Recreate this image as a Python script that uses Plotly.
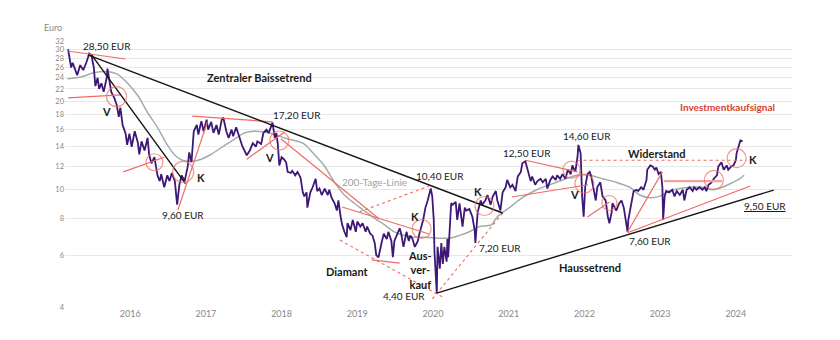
import numpy as np
import plotly.graph_objects as go

# ---------------- data ----------------
price_t = [
    2015.18, 2015.22, 2015.24, 2015.26, 2015.30, 2015.34, 2015.38, 2015.42, 2015.46, 2015.49,
    2015.52, 2015.54, 2015.57, 2015.59, 2015.62, 2015.65, 2015.69, 2015.70, 2015.73, 2015.75,
    2015.79, 2015.82, 2015.85, 2015.87, 2015.90, 2015.94, 2015.96, 2015.99,
    2016.02, 2016.06, 2016.10, 2016.12, 2016.15, 2016.19, 2016.23, 2016.25, 2016.28, 2016.32,
    2016.36, 2016.39, 2016.41, 2016.45, 2016.49, 2016.52, 2016.55, 2016.59, 2016.62, 2016.65,
    2016.68, 2016.72, 2016.76, 2016.78, 2016.81, 2016.84, 2016.88, 2016.90, 2016.94, 2016.97,
    2017.01, 2017.03, 2017.07, 2017.10, 2017.14, 2017.17, 2017.21, 2017.23, 2017.27, 2017.30,
    2017.34, 2017.36, 2017.40, 2017.44, 2017.48, 2017.54, 2017.58, 2017.62, 2017.66, 2017.68,
    2017.73, 2017.76, 2017.80, 2017.83, 2017.87, 2017.88, 2017.91, 2017.93, 2017.95, 2017.97,
    2018.00, 2018.03, 2018.06, 2018.08, 2018.12, 2018.14, 2018.18, 2018.21, 2018.25, 2018.28,
    2018.30, 2018.33, 2018.34, 2018.38, 2018.41, 2018.45, 2018.47, 2018.50, 2018.53, 2018.57,
    2018.61, 2018.63, 2018.66, 2018.70, 2018.73, 2018.75, 2018.78, 2018.80, 2018.83, 2018.86,
    2018.87, 2018.91, 2018.94, 2018.98,
    2019.00, 2019.04, 2019.07, 2019.11, 2019.13, 2019.17, 2019.20, 2019.23, 2019.25, 2019.28,
    2019.32, 2019.35, 2019.39, 2019.41, 2019.45, 2019.47, 2019.49, 2019.53, 2019.56, 2019.58,
    2019.61, 2019.65, 2019.68, 2019.70, 2019.73, 2019.76, 2019.80, 2019.82, 2019.85, 2019.87,
    2019.90, 2019.93, 2019.97, 2019.99,
    2020.01, 2020.02, 2020.05, 2020.06, 2020.09, 2020.11, 2020.13, 2020.15, 2020.18, 2020.19,
    2020.20, 2020.23, 2020.24, 2020.26, 2020.30, 2020.32, 2020.35, 2020.39, 2020.42, 2020.44,
    2020.48, 2020.52, 2020.55, 2020.56, 2020.59, 2020.63, 2020.65, 2020.69, 2020.72, 2020.76,
    2020.79, 2020.83, 2020.85, 2020.89, 2020.92, 2020.96, 2020.98,
    2021.02, 2021.05, 2021.09, 2021.12, 2021.16, 2021.18, 2021.22, 2021.25, 2021.29, 2021.31,
    2021.35, 2021.38, 2021.42, 2021.45, 2021.49, 2021.51, 2021.55, 2021.58, 2021.62, 2021.64,
    2021.68, 2021.71, 2021.75, 2021.78, 2021.82, 2021.84, 2021.88, 2021.91, 2021.92, 2021.95,
    2021.96, 2021.97, 2021.99,
    2022.01, 2022.04, 2022.07, 2022.09, 2022.12, 2022.15, 2022.17, 2022.21, 2022.24, 2022.28,
    2022.31, 2022.33, 2022.36, 2022.37, 2022.40, 2022.42, 2022.46, 2022.49, 2022.52, 2022.54,
    2022.57, 2022.58, 2022.61, 2022.64, 2022.65, 2022.69, 2022.71, 2022.75, 2022.78, 2022.82,
    2022.83, 2022.87, 2022.90, 2022.93, 2022.95, 2022.98,
    2023.01, 2023.03, 2023.04, 2023.06, 2023.08, 2023.12, 2023.16, 2023.19, 2023.22, 2023.26,
    2023.30, 2023.32, 2023.35, 2023.39, 2023.43, 2023.45, 2023.48, 2023.52, 2023.56, 2023.59,
    2023.61, 2023.64, 2023.68, 2023.71, 2023.75, 2023.77, 2023.81, 2023.84, 2023.88, 2023.90,
    2023.94, 2023.97, 2024.00, 2024.01, 2024.04, 2024.06, 2024.09,
]
price_v = [
    30.0, 26.0, 27.0, 26.0, 24.5, 26.5, 25.5, 27.0, 29.0, 28.5,
    26.0, 22.5, 24.0, 22.0, 23.0, 21.5, 24.0, 25.8, 23.5, 21.5,
    20.5, 19.5, 17.7, 19.0, 16.6, 15.5, 14.2, 15.5,
    14.0, 15.8, 14.5, 13.2, 14.6, 13.6, 15.0, 13.2, 12.3, 12.9,
    11.2, 10.7, 11.3, 10.2, 11.2, 10.7, 11.4, 10.7, 8.9, 10.4,
    11.2, 10.7, 12.0, 13.4, 12.4, 15.8, 16.6, 15.4, 17.1, 15.8,
    17.3, 16.0, 17.0, 15.6, 16.6, 15.4, 17.3, 17.6, 15.8, 15.0,
    16.0, 15.2, 16.3, 15.0, 14.1, 13.1, 13.6, 14.4, 14.0, 14.6,
    14.3, 15.6, 16.0, 15.6, 16.6, 16.9, 15.0, 15.6, 14.3, 12.1,
    12.9, 12.7, 12.4, 11.5, 11.4, 11.6, 11.2, 11.5, 11.0, 9.8,
    9.5, 9.8, 8.7, 9.8, 10.2, 10.9, 9.9, 10.1, 9.6, 10.1,
    9.6, 10.0, 9.4, 9.0, 8.5, 9.2, 8.1, 7.6, 7.2, 6.9,
    7.7, 7.3, 7.9, 7.2,
    7.8, 7.5, 7.7, 7.2, 7.5, 7.1, 7.0, 6.6, 6.0, 5.9,
    6.6, 7.1, 6.8, 7.2, 6.7, 5.9, 6.7, 7.1, 7.4, 7.1,
    6.4, 7.2, 6.7, 7.0, 6.8, 6.4, 6.7, 7.1, 7.5, 7.9,
    8.7, 9.2, 10.1, 9.5,
    7.9, 6.1, 4.45, 6.4, 5.4, 6.6, 5.6, 6.4, 5.7, 6.8,
    5.9, 7.9, 9.0, 8.9, 9.1, 7.9, 9.0, 7.5, 8.7, 8.5,
    8.6, 8.1, 7.3, 6.6, 8.4, 9.2, 8.9, 9.2, 9.6, 8.9,
    9.5, 9.9, 9.2, 8.5, 9.8, 10.2, 10.8,
    10.2, 10.4, 9.9, 11.1, 11.5, 12.3, 12.5, 11.7, 10.7, 11.1,
    10.4, 10.7, 10.9, 10.6, 10.9, 10.1, 10.8, 11.1, 10.8, 11.2,
    10.9, 11.3, 10.9, 11.7, 11.3, 12.1, 11.5, 13.0, 14.2, 13.3,
    11.1, 9.5, 8.1,
    10.2, 11.3, 11.5, 11.1, 10.0, 9.2, 10.2, 10.6, 9.5, 9.2,
    8.1, 7.7, 8.4, 9.0, 8.7, 8.5, 9.0, 9.2, 8.7, 8.1,
    7.2, 7.9, 8.7, 9.8, 9.9, 10.0, 9.9, 10.2, 10.0, 10.8,
    11.7, 12.1, 12.0, 11.7, 11.9, 11.3,
    11.5, 10.2, 7.9, 9.5, 9.9, 9.8, 10.0, 9.5, 9.9, 9.6,
    10.0, 9.2, 10.0, 10.2, 9.9, 10.2, 10.0, 10.2, 10.0, 10.2,
    9.9, 10.4, 10.6, 10.9, 11.2, 12.0, 12.4, 11.7, 12.1, 11.7,
    12.0, 12.1, 12.6, 13.3, 14.0, 14.7, 14.6,
]

ma200_t = [2015.17, 2015.36, 2015.53, 2015.70, 2015.83, 2015.96, 2016.10, 2016.23, 2016.36, 2016.49,
           2016.59, 2016.69, 2016.81, 2016.94, 2017.07, 2017.24, 2017.42, 2017.51, 2017.64, 2017.77,
           2017.91, 2018.04, 2018.17, 2018.30, 2018.43, 2018.57, 2018.70, 2018.83, 2018.96, 2019.09,
           2019.23, 2019.36, 2019.49, 2019.62, 2019.76, 2019.89, 2020.09, 2020.22, 2020.35, 2020.48,
           2020.61, 2020.77, 2020.85, 2021.01, 2021.18, 2021.37, 2021.54, 2021.71, 2021.90, 2022.07,
           2022.24, 2022.42, 2022.60, 2022.73, 2022.86, 2022.99, 2023.12, 2023.26, 2023.39, 2023.56,
           2023.69, 2023.82, 2023.96, 2024.05, 2024.11]
ma200_v = [23.8, 24.2, 25.0, 25.2, 24.7, 23.1, 20.9, 18.3, 16.3, 14.2,
           13.1, 12.6, 12.5, 12.7, 13.2, 14.1, 15.1, 15.6, 15.8, 15.7,
           15.4, 15.0, 14.7, 14.3, 13.2, 12.0, 10.6, 9.6, 9.0, 8.5,
           8.0, 7.6, 7.2, 7.0, 6.9, 6.9, 6.85, 6.85, 7.0, 7.2,
           7.5, 7.6, 8.1, 8.7, 9.4, 10.0, 10.4, 10.8, 11.2, 11.2,
           10.9, 10.6, 10.2, 9.6, 9.4, 9.5, 9.9, 10.1, 10.2, 10.2,
           10.0, 10.2, 10.6, 10.9, 11.2]

year_ticks = [2016, 2017, 2018, 2019, 2020, 2021, 2022, 2023, 2024]
y_ticks = [4, 6, 8, 10, 12, 14, 16, 18, 20, 22, 24, 26, 28, 30, 32]

# trend lines (start, end) in (year, EUR)
black_trends = [
    [(2015.44, 28.7), (2020.92, 8.34)],
    [(2015.49, 28.7), (2016.73, 10.5)],
    [(2020.05, 4.46), (2024.50, 9.98)],
]
red_trends = [
    [(2015.17, 29.6), (2015.94, 27.8)],
    [(2015.18, 20.5), (2015.87, 21.0)],
    [(2015.91, 11.5), (2016.45, 12.9)],
    [(2016.63, 8.54), (2017.02, 17.0)],
    [(2016.82, 17.8), (2017.88, 17.0)],
    [(2017.54, 12.7), (2018.04, 15.7)],
    [(2017.99, 14.9), (2019.29, 7.96)],
    [(2018.80, 8.74), (2019.95, 7.08)],
    [(2019.19, 5.78), (2019.56, 5.64)],
    [(2021.22, 12.6), (2021.91, 11.5)],
    [(2021.04, 9.45), (2022.05, 10.4)],
    [(2022.04, 8.08), (2022.33, 9.09)],
    [(2022.57, 7.19), (2023.03, 11.5)],
    [(2022.57, 7.15), (2024.19, 10.3)],
]
red_thick = [[(2023.05, 10.7), (2023.82, 10.7)]]
red_dashed = [
    [(2018.77, 6.75), (2020.15, 4.29)],
    [(2020.92, 8.34), (2019.99, 4.26)],
    [(2019.03, 8.42), (2019.95, 10.3)],
    [(2021.91, 12.6), (2024.14, 12.6)],
]
circle_t = [2015.82, 2016.32, 2016.70, 2017.97, 2019.85, 2020.68, 2021.83, 2022.00, 2022.33, 2023.71, 2024.01]
circle_v = [20.7, 12.4, 11.5, 14.7, 7.36, 8.81, 11.7, 10.5, 9.02, 10.8, 12.8]
circle_d = [20, 17, 21, 19, 19, 19, 17, 19, 15, 19, 19]

labels = [
    ("28,50 EUR", 2015.70, 30.8),
    ("<b>Zentraler Baissetrend</b>", 2017.71, 24.0),
    ("<b>V</b>", 2015.69, 18.5),
    ("<b>K</b>", 2016.93, 11.0),
    ("9,60 EUR", 2016.70, 8.21),
    ("17,20 EUR", 2018.20, 17.9),
    ("<b>V</b>", 2017.84, 12.9),
    ("10,40 EUR", 2020.09, 11.1),
    ("<b>K</b>", 2019.76, 8.09),
    ("<b>Diamant</b>", 2018.87, 5.26),
    ("<b>Aus-<br>ver-<br>kauf</b>", 2019.83, 5.34),
    ("4,40 EUR", 2019.62, 4.36),
    ("<b>K</b>", 2020.60, 9.9),
    ("7,20 EUR", 2020.88, 6.34),
    ("12,50 EUR", 2021.24, 13.3),
    ("14,60 EUR", 2022.04, 15.2),
    ("<b>Widerstand</b>", 2022.95, 13.25),
    ("<b>V</b>", 2021.87, 9.67),
    ("<b>Haussetrend</b>", 2022.07, 5.43),
    ("7,60 EUR", 2022.87, 6.70),
    ("<b>K</b>", 2024.23, 12.7),
    ("<u>9,50 EUR</u>", 2024.39, 8.81),
]

# ---------------- figure ----------------
FONT = "Lato"
PURPLE = "#3d1877"
GRAY = "#a3acac"
RED = "#ee6c63"
BLACK = "#151515"

fig = go.Figure()

fig.add_trace(go.Scatter(x=ma200_t, y=ma200_v, mode="lines",
                         line=dict(color=GRAY, width=1.5, shape="spline", smoothing=0.8),
                         hoverinfo="skip"))
fig.add_trace(go.Scatter(x=price_t, y=price_v, mode="lines",
                         line=dict(color=PURPLE, width=1.8), hoverinfo="skip"))


def add_segments(segs, color, width, dash="solid"):
    xs, ys = [], []
    for (a, b) in segs:
        xs += [a[0], b[0], None]
        ys += [a[1], b[1], None]
    fig.add_trace(go.Scatter(x=xs, y=ys, mode="lines",
                             line=dict(color=color, width=width, dash=dash),
                             hoverinfo="skip"))


add_segments(red_dashed, RED, 1.1, "dot")
add_segments(red_trends, RED, 1.2)
add_segments(red_thick, "#f3a29c", 2.2)
add_segments(black_trends, BLACK, 1.4)

fig.add_trace(go.Scatter(x=circle_t, y=circle_v, mode="markers",
                         marker=dict(symbol="circle-open", size=circle_d,
                                     color=RED, line=dict(color=RED, width=1.2)),
                         hoverinfo="skip"))

annotations = []
for text, t, v in labels:
    bold = text.startswith("<b>")
    annotations.append(dict(x=t, y=np.log10(v), xref="x", yref="y", text=text,
                            showarrow=False, xanchor="center", yanchor="middle",
                            font=dict(family=FONT, size=11 if bold else 10, color="#1a1a1a")))
annotations.append(dict(x=2019.23, y=np.log10(10.6), xref="x", yref="y", text="200-Tage-Linie",
                        showarrow=False, font=dict(family=FONT, size=10, color="#9aa4a4")))
annotations.append(dict(x=2023.89, y=np.log10(19.1), xref="x", yref="y",
                        text="<b>Investmentkaufsignal</b>", showarrow=False,
                        font=dict(family=FONT, size=10, color="#d9412e")))
annotations.append(dict(x=-0.032, y=1.05, xref="paper", yref="paper", text="Euro",
                        showarrow=False, xanchor="left", yanchor="middle",
                        font=dict(family=FONT, size=9, color="#888888")))

fig.update_layout(
    width=840, height=340,
    margin=dict(l=65, r=48, t=41, b=33),
    paper_bgcolor="white", plot_bgcolor="white",
    showlegend=False,
    font=dict(family=FONT),
    annotations=annotations,
    xaxis=dict(range=[2015.139, 2024.742], tickvals=year_ticks,
               ticktext=[str(y) for y in year_ticks], showgrid=False, zeroline=False,
               showline=False, ticks="", tickfont=dict(size=9, color="#888888")),
    yaxis=dict(type="log", range=[np.log10(4), np.log10(32)], tickvals=y_ticks,
               ticktext=[str(v) for v in y_ticks], showgrid=True, gridcolor="#e8e8e8",
               gridwidth=1, zeroline=False, showline=False, ticks="",
               tickfont=dict(size=7.5, color="#888888")),
)

fig.write_html("out.html")
